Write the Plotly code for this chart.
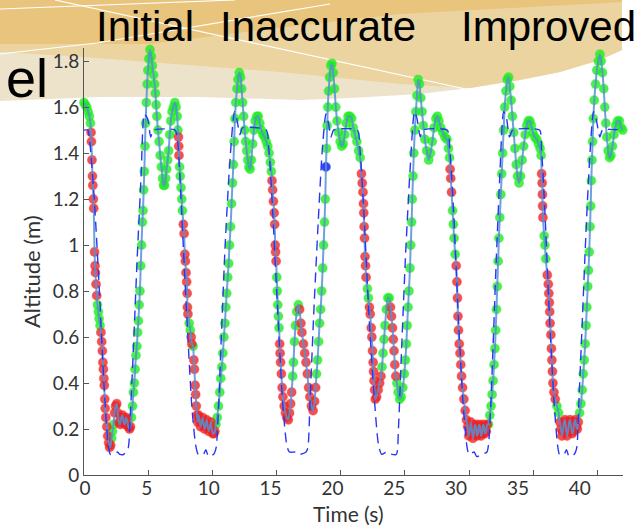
import plotly.graph_objects as go

# ---- measured altitude samples ----
time_s = [
    0.00, 0.10, 0.21, 0.32, 0.42, 0.50, 0.55, 0.58, 0.62, 0.66, 0.69, 0.73, 0.76, 0.82, 0.86, 0.89, 0.94, 0.99,
    1.05, 1.12, 1.18, 1.25, 1.32, 1.38, 1.43, 1.47, 1.51, 1.55, 1.58, 1.62, 1.65, 1.70, 1.78, 1.85, 1.92, 2.00,
    2.08, 2.15, 2.22, 2.30, 2.38, 2.46, 2.55, 2.63, 2.72, 2.81, 2.90, 3.00, 3.08, 3.18, 3.26, 3.35, 3.45, 3.55,
    3.62, 3.70, 3.78, 3.85, 3.92, 3.98, 4.05, 4.12, 4.18, 4.24, 4.30, 4.36, 4.42, 4.48, 4.55, 4.60, 4.65, 4.70,
    4.75, 4.80, 4.86, 4.92, 4.98, 5.05, 5.14, 5.24, 5.33, 5.42, 5.50, 5.56, 5.62, 5.68, 5.76, 5.85, 5.94, 6.03,
    6.12, 6.20, 6.28, 6.36, 6.44, 6.52, 6.60, 6.68, 6.76, 6.86, 6.96, 7.08, 7.18, 7.26, 7.32, 7.36, 7.38, 7.40,
    7.45, 7.50, 7.56, 7.62, 7.67, 7.74, 7.80, 7.86, 7.90, 7.95, 8.00, 8.04, 8.06, 8.10, 8.20, 8.28, 8.35, 8.40,
    8.50, 8.56, 8.60, 8.66, 8.70, 8.75, 8.80, 8.86, 8.93, 9.00, 9.08, 9.16, 9.24, 9.32, 9.40, 9.48, 9.56, 9.64,
    9.72, 9.80, 9.88, 9.96, 10.04, 10.12, 10.20, 10.28, 10.38, 10.48, 10.58, 10.66, 10.74, 10.82, 10.90, 10.98,
    11.05, 11.12, 11.20, 11.27, 11.34, 11.42, 11.50, 11.57, 11.64, 11.70, 11.76, 11.83, 11.92, 12.00, 12.10,
    12.20, 12.28, 12.36, 12.44, 12.52, 12.60, 12.68, 12.76, 12.85, 12.94, 13.04, 13.14, 13.24, 13.34, 13.46,
    13.58, 13.70, 13.82, 13.95, 14.08, 14.20, 14.32, 14.42, 14.52, 14.60, 14.65, 14.70, 14.76, 14.82, 14.86,
    14.90, 14.93, 14.97, 15.02, 15.06, 15.10, 15.15, 15.20, 15.25, 15.28, 15.32, 15.38, 15.44, 15.50, 15.60,
    15.70, 15.80, 15.92, 16.02, 16.10, 16.18, 16.26, 16.32, 16.40, 16.48, 16.58, 16.70, 16.80, 16.90, 16.98,
    17.10, 17.20, 17.30, 17.40, 17.50, 17.60, 17.72, 17.85, 17.97, 18.05, 18.12, 18.20, 18.28, 18.36, 18.44,
    18.52, 18.60, 18.67, 18.74, 18.80, 18.85, 18.90, 18.95, 19.00, 19.06, 19.14, 19.24, 19.32, 19.42, 19.52,
    19.62, 19.72, 19.84, 19.96, 20.08, 20.20, 20.32, 20.44, 20.58, 20.72, 20.86, 20.98, 21.12, 21.26, 21.40,
    21.52, 21.62, 21.68, 21.74, 21.78, 21.80, 21.83, 21.86, 21.90, 21.94, 21.98, 22.08, 22.16, 22.24, 22.30,
    22.38, 22.43, 22.48, 22.53, 22.56, 22.60, 22.64, 22.70, 22.80, 22.92, 23.04, 23.14, 23.22, 23.30, 23.38,
    23.46, 23.56, 23.68, 23.78, 23.88, 23.96, 24.04, 24.10, 24.16, 24.22, 24.30, 24.38, 24.48, 24.60, 24.72,
    24.84, 24.96, 25.04, 25.12, 25.18, 25.25, 25.32, 25.40, 25.46, 25.53, 25.58, 25.64, 25.70, 25.78, 25.86,
    25.94, 26.04, 26.14, 26.24, 26.34, 26.44, 26.56, 26.70, 26.86, 27.00, 27.14, 27.28, 27.42, 27.54, 27.66,
    27.80, 27.96, 28.12, 28.28, 28.40, 28.48, 28.53, 28.58, 28.64, 28.72, 28.78, 28.84, 28.92, 29.00, 29.06,
    29.10, 29.14, 29.18, 29.24, 29.30, 29.36, 29.42, 29.50, 29.60, 29.70, 29.80, 29.90, 29.98, 30.06, 30.14,
    30.22, 30.30, 30.38, 30.46, 30.54, 30.62, 30.70, 30.78, 30.86, 30.94, 31.02, 31.10, 31.18, 31.26, 31.34,
    31.42, 31.52, 31.62, 31.72, 31.80, 31.88, 31.95, 32.02, 32.08, 32.14, 32.20, 32.27, 32.33, 32.40, 32.48,
    32.55, 32.62, 32.70, 32.78, 32.88, 32.98, 33.08, 33.18, 33.28, 33.38, 33.48, 33.58, 33.68, 33.78, 33.90,
    34.02, 34.14, 34.26, 34.38, 34.50, 34.62, 34.74, 34.86, 34.98, 35.12, 35.28, 35.42, 35.54, 35.62, 35.66,
    35.70, 35.72, 35.74, 35.76, 35.86, 35.92, 35.98, 36.10, 36.18, 36.22, 36.26, 36.29, 36.32, 36.38, 36.42,
    36.46, 36.50, 36.54, 36.62, 36.72, 36.85, 36.98, 37.08, 37.16, 37.24, 37.32, 37.40, 37.48, 37.56, 37.64,
    37.72, 37.80, 37.88, 37.96, 38.04, 38.12, 38.20, 38.28, 38.36, 38.44, 38.52, 38.62, 38.72, 38.82, 38.90,
    38.98, 39.05, 39.12, 39.18, 39.25, 39.31, 39.37, 39.43, 39.48, 39.53, 39.58, 39.63, 39.69, 39.76, 39.86,
    39.96, 40.08, 40.20, 40.30, 40.40, 40.50, 40.58, 40.66, 40.74, 40.84, 40.95, 41.06, 41.18, 41.30, 41.44,
    41.58, 41.72, 41.86, 41.98,
]
altitude_m = [
    1.62, 1.61, 1.60, 1.58, 1.56, 1.53, 1.49, 1.45, 1.37, 1.30, 1.26, 1.20, 1.16, 0.97, 0.91, 0.88, 0.83, 0.78,
    0.74, 0.71, 0.68, 0.65, 0.62, 0.58, 0.54, 0.49, 0.46, 0.42, 0.39, 0.33, 0.29, 0.25, 0.21, 0.17, 0.14, 0.12,
    0.13, 0.16, 0.19, 0.22, 0.27, 0.30, 0.31, 0.27, 0.23, 0.22, 0.25, 0.26, 0.23, 0.22, 0.25, 0.24, 0.21, 0.20,
    0.21, 0.25, 0.30, 0.36, 0.40, 0.46, 0.52, 0.56, 0.62, 0.67, 0.74, 0.80, 0.91, 1.00, 1.10, 1.15, 1.24, 1.32,
    1.43, 1.53, 1.62, 1.70, 1.76, 1.81, 1.85, 1.82, 1.78, 1.74, 1.70, 1.66, 1.61, 1.56, 1.50, 1.45, 1.39, 1.34,
    1.29, 1.26, 1.26, 1.29, 1.33, 1.37, 1.41, 1.48, 1.54, 1.58, 1.60, 1.62, 1.60, 1.56, 1.50, 1.47, 1.43, 1.39,
    1.34, 1.30, 1.25, 1.20, 1.15, 1.09, 1.05, 0.96, 0.93, 0.88, 0.84, 0.79, 0.73, 0.70, 0.66, 0.63, 0.60, 0.57,
    0.56, 0.50, 0.46, 0.39, 0.35, 0.30, 0.26, 0.23, 0.26, 0.24, 0.21, 0.23, 0.25, 0.22, 0.20, 0.22, 0.24, 0.21,
    0.19, 0.21, 0.23, 0.20, 0.18, 0.18, 0.19, 0.22, 0.25, 0.30, 0.36, 0.42, 0.47, 0.53, 0.60, 0.66,
    0.73, 0.79, 0.86, 0.92, 1.00, 1.08, 1.18, 1.27, 1.35, 1.45, 1.55, 1.62, 1.68, 1.72, 1.75,
    1.73, 1.68, 1.62, 1.56, 1.50, 1.45, 1.41, 1.37, 1.34, 1.33, 1.37, 1.44, 1.50, 1.54, 1.56,
    1.56, 1.53, 1.50, 1.48, 1.47, 1.45, 1.43, 1.40, 1.36, 1.32, 1.28, 1.24, 1.19, 1.14, 1.09,
    1.00, 0.97, 0.93, 0.86, 0.80, 0.74, 0.69, 0.64, 0.57, 0.53, 0.49, 0.44, 0.38, 0.34, 0.30,
    0.27, 0.25, 0.24, 0.27, 0.31, 0.36, 0.43, 0.49, 0.58, 0.65, 0.71, 0.74, 0.72, 0.66, 0.62,
    0.57, 0.53, 0.49, 0.44, 0.38, 0.34, 0.30, 0.28, 0.32, 0.38, 0.44, 0.50, 0.58, 0.66, 0.72,
    0.80, 0.90, 1.00, 1.10, 1.20, 1.34, 1.42, 1.52, 1.60, 1.67, 1.73, 1.78, 1.79, 1.75, 1.68,
    1.60, 1.54, 1.49, 1.45, 1.43, 1.44, 1.48, 1.53, 1.56, 1.56, 1.55, 1.51, 1.48, 1.45, 1.41,
    1.38, 1.31, 1.27, 1.23, 1.18, 1.14, 1.08, 1.03, 0.95, 0.91, 0.86, 0.81, 0.77, 0.73, 0.70,
    0.64, 0.60, 0.54, 0.49, 0.45, 0.41, 0.37, 0.33, 0.34, 0.37, 0.40, 0.43, 0.47, 0.53, 0.59,
    0.65, 0.72, 0.77, 0.77, 0.73, 0.69, 0.64, 0.59, 0.54, 0.48, 0.43, 0.40, 0.36, 0.33, 0.34,
    0.38, 0.44, 0.50, 0.57, 0.65, 0.73, 0.80, 0.90, 1.00, 1.10, 1.20, 1.30, 1.40, 1.50, 1.58,
    1.65, 1.72, 1.70, 1.64, 1.58, 1.52, 1.46, 1.41, 1.37, 1.40, 1.45, 1.51, 1.55, 1.56, 1.54,
    1.51, 1.49, 1.47, 1.46, 1.42, 1.38, 1.33, 1.29, 1.23, 1.15, 1.09, 1.03, 0.96, 0.91, 0.84,
    0.77, 0.69, 0.63, 0.57, 0.53, 0.48, 0.43, 0.38, 0.33, 0.28, 0.24, 0.21, 0.17, 0.19, 0.23,
    0.20, 0.16, 0.18, 0.22, 0.21, 0.17, 0.18, 0.22, 0.21, 0.17, 0.18, 0.22, 0.21, 0.18, 0.19,
    0.22, 0.22, 0.26, 0.30, 0.35, 0.41, 0.48, 0.55, 0.63, 0.72, 0.82, 0.93, 1.03, 1.12, 1.22,
    1.31, 1.40, 1.50, 1.60, 1.67, 1.72, 1.73, 1.69, 1.63, 1.56, 1.49, 1.42, 1.35, 1.30, 1.27,
    1.30, 1.37, 1.43, 1.48, 1.52, 1.54, 1.54, 1.52, 1.49, 1.47, 1.46, 1.44, 1.42, 1.39, 1.31,
    1.27, 1.22, 1.17, 1.12, 1.04, 1.00, 0.94, 0.87, 0.83, 0.79, 0.75, 0.71, 0.66, 0.61, 0.55,
    0.50, 0.45, 0.40, 0.36, 0.33, 0.30, 0.27, 0.23, 0.20, 0.17, 0.19, 0.23, 0.24, 0.20, 0.17,
    0.19, 0.23, 0.24, 0.21, 0.18, 0.19, 0.23, 0.24, 0.21, 0.20, 0.23, 0.27, 0.31, 0.37, 0.44,
    0.50, 0.57, 0.65, 0.73, 0.82, 0.89, 0.97, 1.08, 1.17, 1.28, 1.37, 1.45, 1.55, 1.63, 1.70,
    1.76, 1.80, 1.83, 1.80, 1.75, 1.68, 1.60, 1.53, 1.47, 1.41, 1.38, 1.39, 1.43, 1.48, 1.52,
    1.54, 1.54, 1.51, 1.50,
]

# time spans (s) during which the inaccurate model is active; switch instants
inaccurate_spans = [
    [0.54, 1.00], [1.30, 2.10], [2.36, 3.64], [7.35, 7.41], [7.72, 8.12], [8.33, 8.42], [8.54, 10.22],
    [14.64, 14.98], [15.24, 16.20], [16.78, 18.06],
    [21.60, 22.00], [22.22, 23.16], [23.86, 24.32],
    [28.52, 28.66], [28.98, 31.44],
    [35.65, 35.78], [36.08, 36.74], [37.06, 38.54],
]
switch_times = [18.85]

# ---- reference (commanded) trajectory ----
ref_time_s = [
    0.00, 0.30, 0.45, 0.80, 1.20, 1.55, 1.85, 2.05, 2.40, 2.60, 2.80, 3.10, 3.30, 3.45, 3.60, 3.85, 4.15, 4.45,
    4.70, 4.95, 5.20, 5.40, 7.10,
    7.30, 7.60, 8.00, 8.40, 8.70, 8.90, 9.30, 9.50, 9.70, 10.10, 10.30, 10.45, 10.70, 11.00, 11.35, 11.72,
    11.90, 12.15, 12.35, 14.20,
    14.40, 14.70, 15.10, 15.50, 15.80, 16.00, 16.50, 16.80, 17.30, 17.45, 17.60, 17.90, 18.25, 18.55, 18.85,
    19.05, 19.25, 19.45, 21.30,
    21.50, 21.80, 22.20, 22.60, 22.95, 23.20, 23.60, 24.00, 24.35, 24.50, 24.75, 25.05, 25.40, 25.75, 25.95,
    26.20, 26.40, 28.30,
    28.50, 28.80, 29.20, 29.55, 29.85, 30.00, 30.40, 30.60, 31.00, 31.40, 31.55, 31.80, 32.10, 32.40, 32.70,
    32.90, 33.15, 33.40, 35.50,
    35.65, 35.95, 36.30, 36.65, 36.90, 37.05, 37.40, 37.60, 37.80, 38.20, 38.40, 38.55, 38.85, 39.15, 39.45,
    39.70, 39.90, 40.20, 40.40, 42.00,
]
ref_altitude_m = [
    1.50, 1.50, 1.45, 1.20, 0.80, 0.40, 0.15, 0.09, 0.09, 0.10, 0.09, 0.09, 0.11, 0.12, 0.25, 0.55, 0.95, 1.30,
    1.57, 1.55, 1.47, 1.50, 1.50,
    1.45, 1.15, 0.70, 0.30, 0.13, 0.09, 0.09, 0.11, 0.08, 0.09, 0.12, 0.25, 0.60, 1.00, 1.35, 1.58,
    1.55, 1.48, 1.51, 1.50,
    1.42, 1.15, 0.70, 0.30, 0.13, 0.10, 0.10, 0.09, 0.10, 0.12, 0.30, 0.70, 1.10, 1.40, 1.57,
    1.53, 1.47, 1.50, 1.50,
    1.42, 1.15, 0.70, 0.35, 0.13, 0.09, 0.10, 0.09, 0.09, 0.20, 0.55, 0.95, 1.32, 1.58, 1.55,
    1.47, 1.50, 1.50,
    1.42, 1.15, 0.65, 0.30, 0.12, 0.09, 0.10, 0.08, 0.09, 0.10, 0.15, 0.45, 0.90, 1.30, 1.58,
    1.56, 1.47, 1.50, 1.50,
    1.42, 1.10, 0.65, 0.30, 0.13, 0.09, 0.09, 0.11, 0.08, 0.09, 0.12, 0.30, 0.70, 1.10, 1.42,
    1.58, 1.55, 1.47, 1.50, 1.50,
]

x_ticks = [0, 5, 10, 15, 20, 25, 30, 35, 40]
y_ticks = [0, 0.2, 0.4, 0.6, 0.8, 1.0, 1.2, 1.4, 1.6, 1.8]
y_tick_text = ["0", "0.2", "0.4", "0.6", "0.8", "1", "1.2", "1.4", "1.6", "1.8"]
header_words = ["Initial", "Inaccurate", "Improved"]

# ---- canvas geometry (pixels) ----
W, H = 642, 527
L, R, T, B = 84, 19, 48, 52
PW, PH = W - L - R, H - T - B


def px(x, y):
    """pixel position -> paper coordinates"""
    return (x - L) / PW, (H - B - y) / PH


def polyline(points, close=False):
    parts = []
    for i, (x, y) in enumerate(points):
        u, v = px(x, y)
        parts.append(("M" if i == 0 else "L") + f"{u:.5f},{v:.5f}")
    return " ".join(parts) + (" Z" if close else "")


def model_state(t):
    if any(abs(t - s) < 1e-6 for s in switch_times):
        return "b"
    if any(a <= t <= b for a, b in inaccurate_spans):
        return "r"
    return "g"


states = [model_state(t) for t in time_s]

fig = go.Figure()

marker_styles = [
    ("g", "rgba(30,238,30,0.80)", "rgba(30,238,30,0.35)"),
    ("r", "rgba(240,32,32,0.78)", "rgba(240,32,32,0.35)"),
    ("b", "rgba(30,50,240,0.90)", "rgba(30,50,240,0.40)"),
]
for flag, fill, edge in marker_styles:
    xs = [t for t, s in zip(time_s, states) if s == flag]
    ys = [a for a, s in zip(altitude_m, states) if s == flag]
    fig.add_trace(go.Scatter(
        x=xs, y=ys, mode="markers", cliponaxis=False, showlegend=False, hoverinfo="skip",
        marker=dict(size=9, color=fill, line=dict(width=1.2, color=edge)),
    ))

fig.add_trace(go.Scatter(
    x=time_s, y=altitude_m, mode="lines", showlegend=False,
    line=dict(color="rgba(85,145,215,0.85)", width=2, shape="spline", smoothing=0.5),
))
fig.add_trace(go.Scatter(
    x=ref_time_s, y=ref_altitude_m, mode="lines", showlegend=False,
    line=dict(color="rgb(40,55,245)", width=1.4, dash="10px,6px", shape="spline", smoothing=0.6),
))
# carrier for the tick-label axis
fig.add_trace(go.Scatter(
    x=x_ticks, y=[0] * len(x_ticks), xaxis="x2", mode="markers", showlegend=False, hoverinfo="skip",
    marker=dict(size=1, opacity=0),
))

# ---- header band ----
shapes = []
cream = [(0, 0), (622, 0), (622, 50), (600, 60), (560, 72), (520, 80), (470, 88), (420, 94), (350, 98),
         (300, 100), (200, 97), (100, 97), (0, 101)]
tan = [(0, 0), (622, 0), (622, 50), (600, 60), (560, 72), (520, 80), (470, 88), (400, 84), (280, 72), (83, 57),
       (0, 52)]
gold = [(0, 0), (622, 0), (622, 2), (400, 14), (260, 30), (150, 44), (0, 44)]
for pts, col in [(cream, "#ede3cb"), (tan, "#ebd4a0"), (gold, "#e8c47c")]:
    shapes.append(dict(type="path", xref="paper", yref="paper", path=polyline(pts, True), fillcolor=col,
                       line=dict(width=0), layer="below"))
for pts in [[(0, 9), (235, 0)], [(0, 54), (97, 43), (330, 4)], [(55, 0), (470, 90)]]:
    shapes.append(dict(type="path", xref="paper", yref="paper", path=polyline(pts),
                       line=dict(color="white", width=1.2), layer="below"))

annotations = []
for word, cx in zip(header_words, [145, 318, 548]):
    u, v = px(cx, 27)
    annotations.append(dict(text=word, x=u, y=v, xref="paper", yref="paper", showarrow=False,
                            xanchor="center", yanchor="middle",
                            font=dict(family="Liberation Sans", size=42, color="black")))
u, v = px(50, 78)
annotations.append(dict(text="el", x=u, y=v, xref="paper", yref="paper", showarrow=False,
                        xanchor="right", yanchor="middle",
                        font=dict(family="Liberation Sans", size=54, color="black")))
u, v = px(348, 513)
annotations.append(dict(text="Time (s)", x=u, y=v, xref="paper", yref="paper", showarrow=False,
                        xanchor="center", yanchor="middle", font=dict(family="Lato", size=21, color="#333")))
u, v = px(31, 272)
annotations.append(dict(text="Altitude (m)", x=u, y=v, xref="paper", yref="paper", showarrow=False,
                        textangle=-90, xanchor="center", yanchor="middle",
                        font=dict(family="Lato", size=22, color="#333")))

tick_font = dict(family="Lato", size=19, color="#333")
fig.update_layout(
    width=W, height=H, margin=dict(l=L, r=R, t=T, b=B),
    paper_bgcolor="white", plot_bgcolor="rgba(0,0,0,0)",
    xaxis=dict(range=[0, 42], tickvals=x_ticks, showticklabels=False, showgrid=False, zeroline=False,
               showline=True, linecolor="#555", linewidth=1, ticks="inside", ticklen=5, tickcolor="#555"),
    xaxis2=dict(range=[-0.08, 43.49], overlaying="x", anchor="y", side="bottom", tickvals=x_ticks,
                showgrid=False, zeroline=False, showline=False, ticks="", tickfont=tick_font),
    yaxis=dict(range=[0, 1.857], tickvals=y_ticks, ticktext=y_tick_text, showgrid=False, zeroline=False,
               showline=True, linecolor="#555", linewidth=1, ticks="inside", ticklen=5, tickcolor="#555",
               tickfont=tick_font),
    shapes=shapes, annotations=annotations,
)
fig.write_html("out.html")
